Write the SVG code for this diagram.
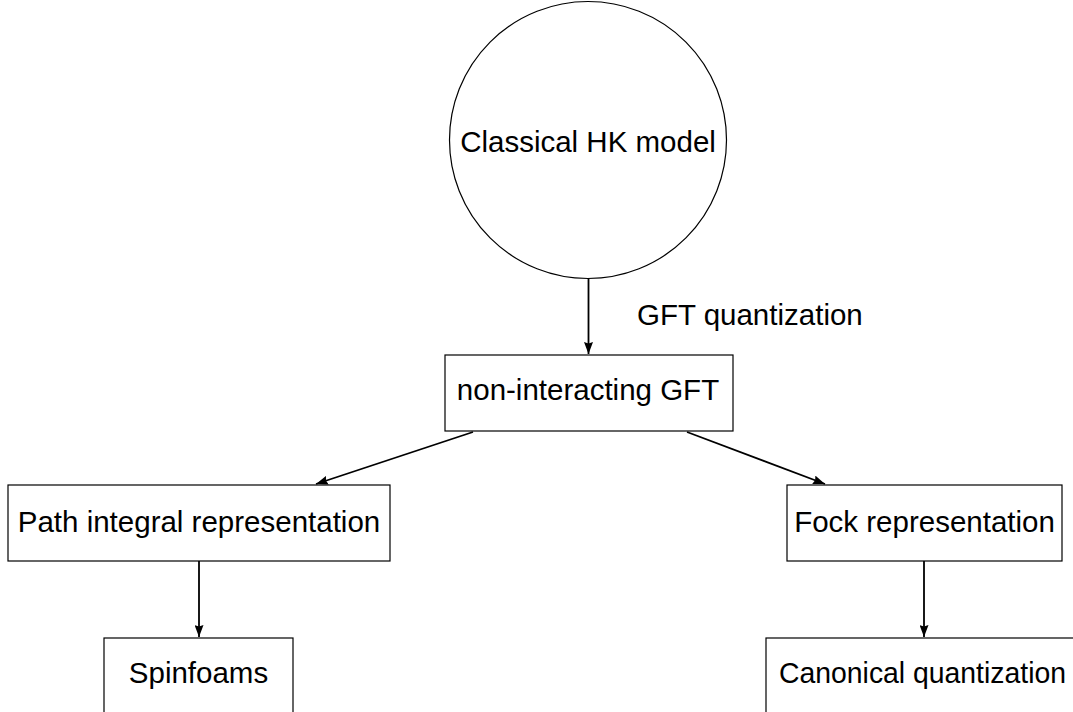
<svg xmlns="http://www.w3.org/2000/svg" width="1073" height="712" viewBox="0 0 1073 712">
<style>
.n{fill:#fff;stroke:#000;stroke-width:1.2}
.t{font-family:"Liberation Sans",Arial,sans-serif;font-size:29.5px;fill:#000}
.c{text-anchor:middle}
.e{fill:none;stroke:#000;stroke-width:1.8;marker-end:url(#ah)}
</style>
<defs>
<marker id="ah" viewBox="0 0 12 9" refX="12" refY="4.5" markerWidth="12" markerHeight="9" markerUnits="userSpaceOnUse" orient="auto">
<path d="M0,0 L12,4.5 L0,9 L1.5,4.5 Z" fill="#000"/>
</marker>
</defs>
<rect width="1073" height="712" fill="#fff"/>
<g id="connectors">
<line class="e" x1="588.5" y1="279" x2="588.5" y2="354"/>
<line class="e" x1="473" y1="432" x2="316" y2="484"/>
<line class="e" x1="687" y1="432" x2="825" y2="484"/>
<line class="e" x1="199" y1="561" x2="199" y2="637"/>
<line class="e" x1="924" y1="561" x2="924" y2="637"/>
<text class="t" x="637" y="325">GFT quantization</text>
</g>
<g id="classical">
<circle class="n" cx="588" cy="140" r="138.5"/>
<text class="t c" x="588" y="152">Classical HK model</text>
</g>
<g id="noninteracting">
<rect class="n" x="445" y="355" width="288" height="76"/>
<text class="t c" x="588" y="400">non-interacting GFT</text>
</g>
<g id="pathintegral">
<rect class="n" x="8" y="485" width="382" height="76"/>
<text class="t c" x="199" y="532">Path integral representation</text>
</g>
<g id="fock">
<rect class="n" x="787" y="485" width="275" height="76"/>
<text class="t c" x="924.5" y="532">Fock representation</text>
</g>
<g id="spinfoams">
<rect class="n" x="104" y="638" width="189" height="80"/>
<text class="t c" x="198.5" y="683">Spinfoams</text>
</g>
<g id="canonical">
<rect class="n" x="766" y="638" width="316" height="80"/>
<text class="t" x="779" y="683" textLength="287" lengthAdjust="spacingAndGlyphs">Canonical quantization</text>
</g>
</svg>
